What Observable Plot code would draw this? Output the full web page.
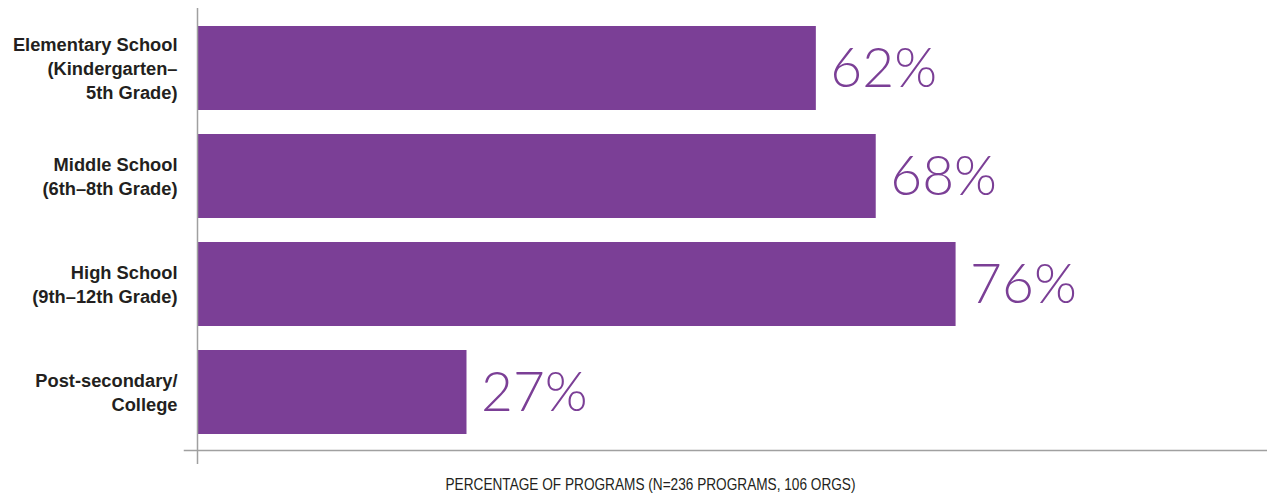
<!DOCTYPE html>
<html>
<head>
<meta charset="utf-8">
<script src="https://cdn.jsdelivr.net/npm/d3@7"></script>
<script src="https://cdn.jsdelivr.net/npm/@observablehq/plot@0.6"></script>
<style>
  html, body { margin: 0; padding: 0; background: #fff; }
  #chart svg { display: block; }
</style>
</head>
<body>
<div id="chart"></div>
<script>
const categories = [
  "Elementary School\n(Kindergarten–\n5th Grade)",
  "Middle School\n(6th–8th Grade)",
  "High School\n(9th–12th Grade)",
  "Post-secondary/\nCollege"
];
const values = [62, 68, 76, 27];
const axisTitle = "PERCENTAGE OF PROGRAMS (N=236 PROGRAMS, 106 ORGS)";

const data = categories.map((c, i) => ({category: c, value: values[i]}));
const purple = "#7b3f96";

const chart = Plot.plot({
  width: 1267,
  height: 496,
  marginLeft: 197,
  marginRight: 0,
  marginTop: 14,
  marginBottom: 50,
  style: {fontFamily: "'Liberation Sans', Arial, Helvetica, sans-serif", background: "#fff"},
  x: {domain: [0, 107.2], axis: null},
  y: {domain: categories, axis: null, paddingInner: 0.222, paddingOuter: 0.111},
  marks: [
    Plot.barX(data, {x: "value", y: "category", fill: purple}),
    Plot.ruleX([0], {stroke: "#a0a0a0", strokeWidth: 1.5, insetTop: -6, insetBottom: -18}),
    Plot.frame({anchor: "bottom", stroke: "#a0a0a0", strokeWidth: 1.5, insetLeft: -13, dy: 4}),
    Plot.text(data, {
      x: "value", y: "category", text: d => d.value + "%",
      textAnchor: "start", dx: 14, dy: 1,
      fill: purple, fontSize: 55, fontWeight: 300,
      fontFamily: "Lato, 'Liberation Sans', sans-serif"
    }),
    Plot.text(data, {
      x: 0, y: "category", text: "category",
      textAnchor: "end", dx: -20, dy: -1, lineHeight: 1.31,
      fill: "#231f20", fontSize: 18.3, fontWeight: "bold"
    }),
    Plot.text([axisTitle], {
      frameAnchor: "bottom", text: d => d, dy: 43, dx: -82,
      fill: "#231f20", fontSize: 17, className: "axis-title"
    })
  ]
});
document.getElementById("chart").appendChild(chart);
// condense the axis title horizontally, as in the reference
d3.select(chart).selectAll("g.axis-title text")
  .attr("textLength", 410)
  .attr("lengthAdjust", "spacingAndGlyphs");
</script>
</body>
</html>
